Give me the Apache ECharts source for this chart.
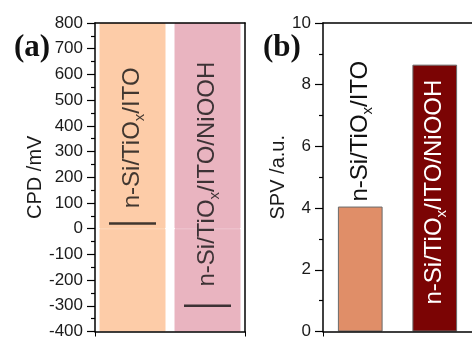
<!DOCTYPE html>
<html>
<head>
<meta charset="utf-8">
<script src="https://cdn.jsdelivr.net/npm/echarts@6/dist/echarts.min.js"></script>
<style>
  html, body { margin: 0; padding: 0; background: #fff; }
  #chart { width: 472px; height: 340px; }
</style>
</head>
<body>
<div id="chart"></div>
<script>
// Samples measured in both panels
const samples = ['n-Si/TiOx/ITO', 'n-Si/TiOx/ITO/NiOOH'];
// (a) contact potential difference, mV
const cpdValues = [20, -300];
// (b) surface photovoltage, a.u.
const spvValues = [4.05, 8.65];
// axis ranges and tick steps
const cpdTicks = { min: -400, max: 800, interval: 100 };
const spvTicks = { min: 0, max: 10, interval: 2 };

const bandColors = ['#fdcca8', '#e9b4c0'];
const spvColors = ['#e08e68', '#7b0404'];
const FONT = '"Liberation Sans", Arial, sans-serif';

// "n-Si/TiOx/ITO" -> rich text with a subscript x
function richName(name) {
  return '{t|' + name.replace('TiOx', 'TiO}{s|x}{t|') + '}';
}
function richStyles(color) {
  return {
    t: { fontFamily: FONT, fontSize: 24, lineHeight: 30, color: color, verticalAlign: 'middle' },
    s: { fontFamily: FONT, fontSize: 15, lineHeight: 15, color: color, verticalAlign: 'bottom' }
  };
}

const axisLine = { show: true, onZero: false, lineStyle: { color: '#000', width: 1.5 } };
const axisTick = { show: true, length: 8, lineStyle: { color: '#000', width: 1.2 } };
const minorTick = { show: true, splitNumber: 2, length: 4, lineStyle: { color: '#000', width: 1.2 } };
const tickLabel = { fontFamily: FONT, fontSize: 17, color: '#1a1a1a', margin: 12 };
const nameStyle = { fontFamily: FONT, fontSize: 20, color: '#1a1a1a' };
// plain frame lines on the top and right of each plot
const frameX = gi => ({ gridIndex: gi, type: 'category', data: samples, position: 'top', z: 10,
  axisLine: axisLine, axisTick: { show: false }, axisLabel: { show: false } });
const frameY = (gi, t) => ({ gridIndex: gi, type: 'value', min: t.min, max: t.max, interval: t.interval,
  position: 'right', z: 10, axisLine: axisLine, axisTick: { show: false }, axisLabel: { show: false },
  splitLine: { show: false } });
// band halves reaching the axis limits, outlined in their own colour so they join seamlessly
const bandData = limit => samples.map((s, i) => ({
  value: limit,
  itemStyle: { color: bandColors[i], borderColor: bandColors[i], borderWidth: 1 }
}));

const chart = echarts.init(document.getElementById('chart'), null, { renderer: 'canvas' });

chart.setOption({
  backgroundColor: '#fff',
  animation: false,
  title: [
    { text: '(a)', left: 9, top: 27, textStyle: { fontFamily: '"Liberation Serif", serif', fontWeight: 'bold', fontSize: 31, color: '#111' } },
    { text: '(b)', left: 258, top: 27, textStyle: { fontFamily: '"Liberation Serif", serif', fontWeight: 'bold', fontSize: 31, color: '#111' } }
  ],
  grid: [
    { left: 95, top: 23, width: 150, height: 314 },
    { left: 323, top: 23, width: 152, height: 314 }
  ],
  xAxis: [
    { gridIndex: 0, type: 'category', data: samples, axisLine: axisLine, z: 10,
      axisTick: { show: true, length: 5, lineStyle: { color: '#000' } }, axisLabel: { show: false } },
    { gridIndex: 1, type: 'category', data: samples, axisLine: axisLine, z: 10,
      axisTick: { show: true, length: 5, lineStyle: { color: '#000' } }, axisLabel: { show: false } },
    frameX(0), frameX(1)
  ],
  yAxis: [
    { gridIndex: 0, type: 'value', min: cpdTicks.min, max: cpdTicks.max, interval: cpdTicks.interval,
      axisLine: axisLine, axisTick: axisTick, minorTick: minorTick, splitLine: { show: false }, z: 10,
      axisLabel: tickLabel,
      name: 'CPD /mV', nameLocation: 'middle', nameGap: 47, nameTextStyle: nameStyle },
    { gridIndex: 1, type: 'value', min: spvTicks.min, max: spvTicks.max, interval: spvTicks.interval,
      axisLine: axisLine, axisTick: axisTick, minorTick: minorTick, splitLine: { show: false }, z: 10,
      axisLabel: tickLabel,
      name: 'SPV /a.u.', nameLocation: 'middle', nameGap: 28, nameTextStyle: nameStyle },
    frameY(0, cpdTicks)
  ],
  series: [
    // full-height coloured bands behind each sample (upper and lower halves stacked)
    { type: 'bar', xAxisIndex: 0, yAxisIndex: 0, stack: 'band', silent: true, barCategoryGap: '12%',
      data: bandData(cpdTicks.max) },
    { type: 'bar', xAxisIndex: 0, yAxisIndex: 0, stack: 'band', silent: true, barCategoryGap: '12%',
      data: bandData(cpdTicks.min) },
    // CPD level markers with the sample names
    { type: 'scatter', xAxisIndex: 0, yAxisIndex: 0, z: 5,
      symbol: 'rect', symbolSize: [47, 2.5],
      itemStyle: { color: '#111' },
      data: cpdValues.map((v, i) => ({ value: v, label: { distance: i === 0 ? 11 : 15 } })),
      label: {
        show: true, position: 'top', rotate: 90, align: 'left', verticalAlign: 'middle', offset: [3, 0],
        formatter: p => richName(samples[p.dataIndex]), rich: richStyles('#111')
      } },
    // SPV bars
    { type: 'bar', xAxisIndex: 1, yAxisIndex: 1, barCategoryGap: '40%',
      data: spvValues.map((v, i) => ({
        value: v,
        itemStyle: { color: spvColors[i], borderColor: '#6b6b6b', borderWidth: 1 },
        label: i === 0
          ? { position: 'top', distance: 5, offset: [0, 0], rich: richStyles('#111') }
          : { position: 'insideBottom', distance: 24, offset: [3, 0], rich: richStyles('#fff') }
      })),
      label: {
        show: true, rotate: 90, align: 'left', verticalAlign: 'middle',
        formatter: p => richName(samples[p.dataIndex])
      } }
  ]
});
</script>
</body>
</html>
